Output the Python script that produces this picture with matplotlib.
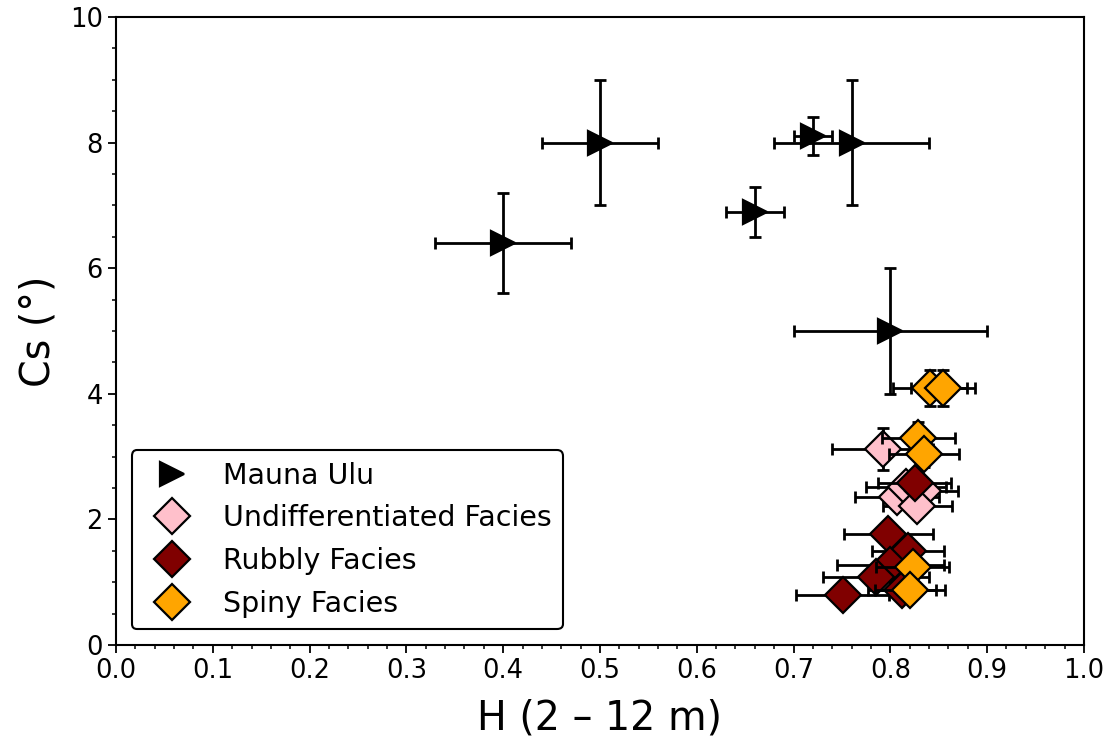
import matplotlib
matplotlib.use("Agg")
import matplotlib.pyplot as plt
from matplotlib.ticker import MultipleLocator

# Mauna Ulu
mu_h = [0.40, 0.50, 0.66, 0.72, 0.76, 0.80]
mu_cs = [6.4, 8.0, 6.9, 8.1, 8.0, 5.0]
mu_herr = [0.07, 0.06, 0.03, 0.02, 0.08, 0.10]
mu_cserr = [0.8, 1.0, 0.4, 0.3, 1.0, 1.0]

# Undifferentiated facies
und_h = [0.792, 0.807, 0.816, 0.834, 0.828]
und_cs = [3.12, 2.35, 2.52, 2.46, 2.21]
und_herr = [0.052, 0.043, 0.041, 0.036, 0.036]
und_cserr = [0.33, 0.15, 0.15, 0.15, 0.15]

# Rubbly facies
rub_h = [0.825, 0.798, 0.818, 0.800, 0.785, 0.751, 0.812]
rub_cs = [2.58, 1.77, 1.50, 1.27, 1.09, 0.80, 0.88]
rub_herr = [0.038, 0.046, 0.037, 0.055, 0.055, 0.048, 0.035]
rub_cserr = [0.15, 0.15, 0.15, 0.15, 0.15, 0.15, 0.15]

# Spiny facies
spi_h = [0.841, 0.854, 0.829, 0.835, 0.823, 0.820]
spi_cs = [4.09, 4.09, 3.30, 3.04, 1.24, 0.88]
spi_herr = [0.038, 0.033, 0.038, 0.036, 0.038, 0.036]
spi_cserr = [0.29, 0.29, 0.25, 0.20, 0.15, 0.15]

fig = plt.figure(figsize=(11.1, 7.45), dpi=100)
ax = fig.add_axes([0.1045, 0.1342, 0.872, 0.843])

eb_kw = dict(fmt='none', ecolor='black', elinewidth=2, capsize=4, capthick=2)

series = [
    (mu_h, mu_cs, mu_herr, mu_cserr, '>', 'black', 'black', 17, 'Mauna Ulu'),
    (und_h, und_cs, und_herr, und_cserr, 'D', 'pink', 'black', 18, 'Undifferentiated Facies'),
    (rub_h, rub_cs, rub_herr, rub_cserr, 'D', 'maroon', 'black', 18, 'Rubbly Facies'),
    (spi_h, spi_cs, spi_herr, spi_cserr, 'D', 'orange', 'black', 18, 'Spiny Facies'),
]
for h, cs, he, ce, mk, fc, ec, ms, lab in series:
    ax.errorbar(h, cs, xerr=he, yerr=ce, **eb_kw)
    ax.plot(h, cs, linestyle='none', marker=mk, markersize=ms,
            markerfacecolor=fc, markeredgecolor=ec, markeredgewidth=1.6,
            label=lab)

ax.set_xlim(0, 1.0)
ax.set_ylim(0, 10)
ax.xaxis.set_major_locator(MultipleLocator(0.1))
ax.xaxis.set_minor_locator(MultipleLocator(0.02))
ax.yaxis.set_major_locator(MultipleLocator(2))
ax.yaxis.set_minor_locator(MultipleLocator(0.5))
ax.tick_params(which='major', length=6, width=1.3, labelsize=18.5)
ax.tick_params(which='minor', length=3, width=1.1)
for s in ax.spines.values():
    s.set_linewidth(1.5)

ax.set_xlabel('H (2 – 12 m)', fontsize=28.5, labelpad=10)
ax.set_ylabel('Cs (°)', fontsize=28.5, labelpad=8)

leg = ax.legend(loc='lower left', fontsize=20.5, frameon=True, fancybox=True,
                edgecolor='black', framealpha=1, borderpad=0.4,
                handletextpad=0.8, labelspacing=0.52, borderaxespad=0.55)
leg.get_frame().set_linewidth(1.5)

fig.savefig('out.png', dpi=100)
